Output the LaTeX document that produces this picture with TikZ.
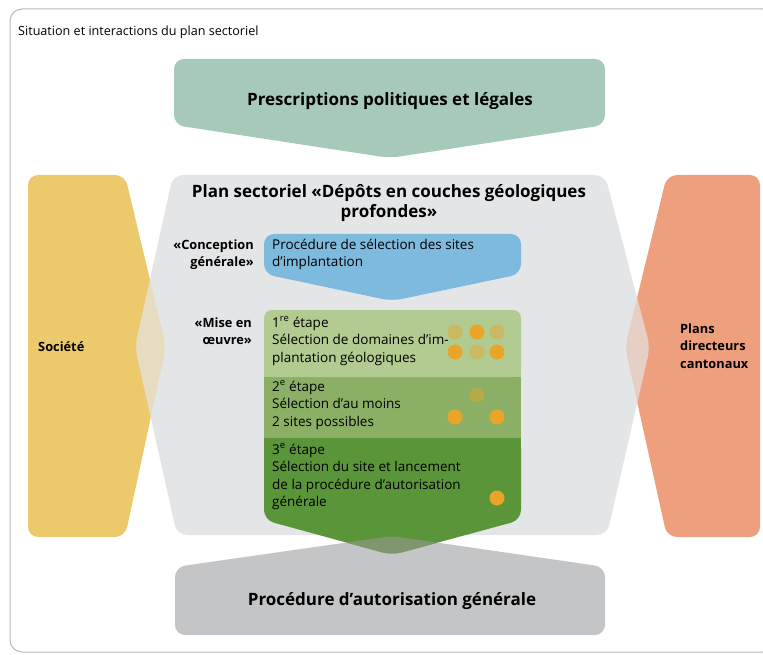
\documentclass[tikz,border=0pt]{standalone}
\usepackage{fontspec}
\setmainfont{Open Sans}

\definecolor{framegrey}{RGB}{185,185,185}
\definecolor{prescgreen}{RGB}{167,201,186}
\definecolor{societyyellow}{RGB}{236,201,107}
\definecolor{cantonorange}{RGB}{238,159,125}
\definecolor{plangrey}{RGB}{228,229,231}
\definecolor{conceptblue}{RGB}{125,186,221}
\definecolor{stepone}{RGB}{178,203,145}
\definecolor{steptwo}{RGB}{139,176,101}
\definecolor{stepthree}{RGB}{91,149,58}
\definecolor{procgrey}{RGB}{196,197,199}
\definecolor{tipgrey}{RGB}{128,150,110}
\definecolor{dotorange}{RGB}{233,165,40}

% outlines of the big shapes (pixel coordinates, y downwards)
\newcommand{\plangreypath}{(173,175) -- (605,175) -- (650,347) -- (607,535) -- (177,535) -- (135,347) -- cycle}
\newcommand{\societypath}{(28,175) -- (125,175) -- (166,347) -- (125,537) -- (28,537) -- cycle}
\newcommand{\cantonpath}{(667,175) -- (760,175) -- (760,537) -- (667,537) -- (625,347) -- cycle}
\newcommand{\procpath}{(175,567) -- (392,536) -- (605,567) -- (605,635) -- (175,635) -- cycle}
\newcommand{\stepthreepath}{(264,438) -- (521,438) -- (521,520) -- (392,555) -- (264,520) -- cycle}

\begin{document}
\begin{tikzpicture}[x=1pt,y=-1pt,
    rounded corners=10pt,
    bodytext/.style={font=\fontsize{13.5}{17.5}\selectfont, align=left, inner sep=0pt},
    headtext/.style={font=\bfseries\fontsize{17}{19.5}\selectfont, align=center, inner sep=0pt},
    sidetext/.style={font=\bfseries\fontsize{12.8}{17.5}\selectfont, align=left, inner sep=0pt},
    dot/.style={fill=dotorange},
    fadeddot/.style={fill=dotorange, fill opacity=0.45}]
    \useasboundingbox (0,0) rectangle (763,655);
    \draw[framegrey, line width=1pt, rounded corners=12pt] (10,9) rectangle (775,652);

    \node[anchor=base west, inner sep=0pt, font=\fontsize{12.6}{14}\selectfont] (title) at (18,36) {Situation et interactions du plan sectoriel};

    % top green arrow
    \fill[prescgreen] (174,59) -- (605,59) -- (605,125) -- (390,158) -- (174,125) -- cycle;
    \node[headtext] (presc) at (390,101) {Prescriptions politiques et légales};

    % side shapes and central plan
    \fill[societyyellow] \societypath;
    \fill[cantonorange] \cantonpath;
    \fill[plangrey] \plangreypath;
    \begin{scope}
        \clip \societypath;
        \fill[societyyellow, fill opacity=0.3] \plangreypath;
    \end{scope}
    \begin{scope}
        \clip \cantonpath;
        \fill[cantonorange, fill opacity=0.3] \plangreypath;
    \end{scope}
    \node[sidetext, anchor=base west] (society) at (38,351) {Société};
    \node[sidetext, anchor=base west] (canton) at (680,368) {Plans\\directeurs\\cantonaux};

    \node[headtext, anchor=base] (plan) at (389,217.5) {Plan sectoriel «Dépôts en couches géologiques\\profondes»};

    % conception
    \fill[conceptblue] (264,234) -- (521,234) -- (521,274) -- (392,301) -- (264,274) -- cycle;
    \node[sidetext, align=right, anchor=base east] (concept) at (254,266.5) {«Conception\\générale»};
    \node[bodytext, anchor=base west] (selection) at (272,266.5) {Procédure de sélection des sites\\d’implantation};

    % bottom box
    \fill[procgrey] \procpath;
    \node[headtext] (proc) at (392,601) {Procédure d’autorisation générale};

    % steps
    \fill[stepthree] \stepthreepath;
    \fill[stepthree, sharp corners] (264,438) rectangle (521,470);
    \begin{scope}
        \clip \procpath;
        \fill[tipgrey] \stepthreepath;
    \end{scope}
    \fill[steptwo, sharp corners] (264,377) rectangle (521,438);
    \fill[stepone, rounded corners=8pt] (264,310) rectangle (521,377);
    \fill[stepone, sharp corners] (264,340) rectangle (521,377);

    \node[sidetext, align=right, anchor=base east] (mise) at (252,344.5) {«Mise en\\œuvre»};
    \node[bodytext, anchor=base west] (etape1) at (272,362) {1\textsuperscript{re} étape\\Sélection de domaines d’im-\\plantation géologiques};
    \node[bodytext, anchor=base west] (etape2) at (272,426) {2\textsuperscript{e} étape\\Sélection d’au moins\\2 sites possibles};
    \node[bodytext, anchor=base west] (etape3) at (272,506.5) {3\textsuperscript{e} étape\\Sélection du site et lancement\\de la procédure d’autorisation\\générale};

    % sites
    \fill[fadeddot] (455,332) circle (7.5pt);
    \fill[dot] (477,332) circle (7.5pt);
    \fill[fadeddot] (497,332) circle (7.5pt);
    \fill[dot] (455,352) circle (7.5pt);
    \fill[fadeddot] (477,352) circle (7.5pt);
    \fill[dot] (497,352) circle (7.5pt);
    \fill[fadeddot] (477,395) circle (7.5pt);
    \fill[dot] (455,417) circle (7.5pt);
    \fill[dot] (497,417) circle (7.5pt);
    \fill[dot] (497,498) circle (7.5pt);
\end{tikzpicture}
\end{document}
